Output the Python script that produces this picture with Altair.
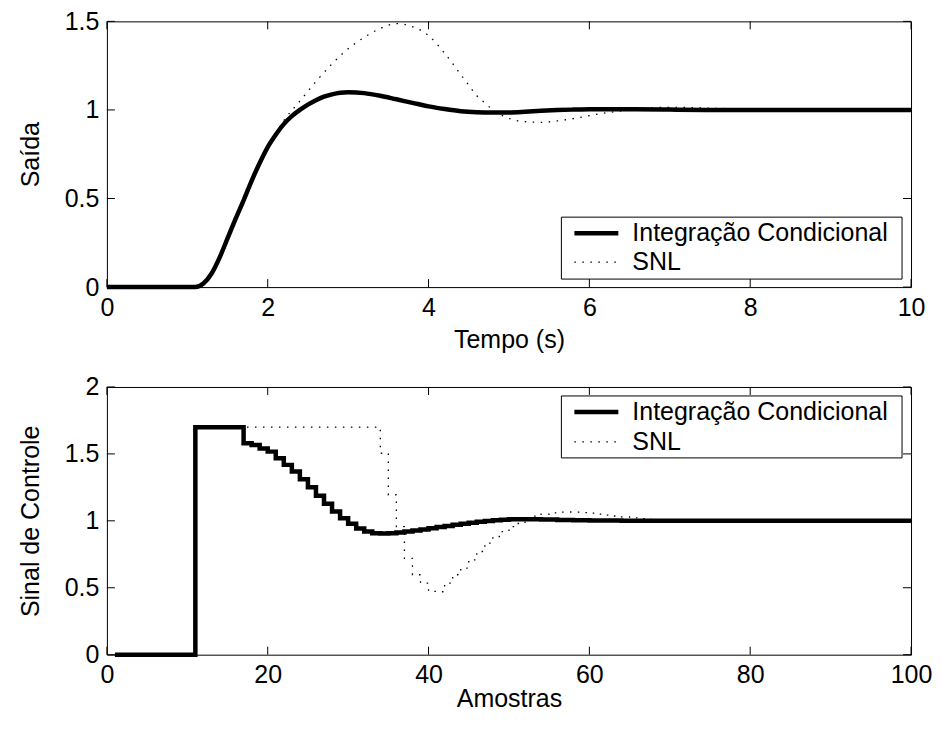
import altair as alt
import pandas as pd

FONT = "Liberation Sans"
series = ["Integração Condicional", "SNL"]

# ---- top panel: output vs time ----
t_ic = [0, 1.0, 1.1, 1.2, 1.3, 1.4, 1.5, 1.6, 1.7, 1.8, 1.9, 2.0, 2.1, 2.2, 2.3, 2.4, 2.5, 2.6,
        2.7, 2.8, 2.9, 3.0, 3.2, 3.4, 3.6, 3.8, 4.0, 4.2, 4.4, 4.6, 4.8, 5.0, 5.2, 5.4, 5.6,
        5.8, 6.0, 6.5, 7.0, 7.5, 8.0, 9.0, 10.0]
y_ic = [0, 0, 0.0, 0.02, 0.075, 0.165, 0.275, 0.385, 0.49, 0.6, 0.7, 0.79, 0.86, 0.92, 0.965,
        1.0, 1.03, 1.055, 1.075, 1.088, 1.097, 1.1, 1.095, 1.08, 1.06, 1.04, 1.02, 1.005, 0.993,
        0.987, 0.985, 0.986, 0.99, 0.995, 0.999, 1.002, 1.004, 1.004, 1.002, 1.0, 1.0, 1.0, 1.0]

t_snl = [0, 1.0, 1.1, 1.2, 1.3, 1.4, 1.5, 1.6, 1.7, 1.8, 1.9, 2.0, 2.1, 2.2, 2.4, 2.6, 2.8,
         3.0, 3.2, 3.4, 3.6, 3.8, 4.0, 4.2, 4.4, 4.5, 4.6, 4.7, 4.8, 4.9, 5.0, 5.2, 5.4, 5.6,
         5.8, 6.0, 6.2, 6.4, 6.6, 6.8, 7.0, 7.5, 8.0, 8.5, 9.0, 10.0]
y_snl = [0, 0, 0.0, 0.02, 0.075, 0.165, 0.275, 0.385, 0.49, 0.6, 0.7, 0.8, 0.87, 0.94, 1.05,
         1.16, 1.26, 1.345, 1.41, 1.46, 1.487, 1.47, 1.42, 1.32, 1.2, 1.14, 1.08, 1.04, 1.0,
         0.972, 0.952, 0.934, 0.93, 0.938, 0.951, 0.968, 0.983, 0.995, 1.006, 1.013, 1.015,
         1.01, 1.004, 1.0, 1.0, 1.0]

# ---- bottom panel: control signal vs samples ----
samples = list(range(1, 101))
u_ic = ([0.0] * 10 + [1.7] * 6 +
        [1.58, 1.567, 1.54, 1.517, 1.468, 1.418, 1.368, 1.31, 1.25, 1.187, 1.127, 1.07, 1.02,
         0.978, 0.943, 0.92, 0.908, 0.905] +
        [0.907, 0.912, 0.92, 0.928, 0.936, 0.945, 0.953, 0.962, 0.97, 0.978, 0.986, 0.993,
         0.999, 1.004, 1.008, 1.011, 1.012] +
        [1.012, 1.011, 1.01, 1.009, 1.007, 1.006, 1.005, 1.004, 1.003, 1.003, 1.002, 1.002,
         1.001, 1.001, 1.001, 1.0, 1.0, 1.0, 1.0] +
        [1.0] * 30)
u_snl = ([0.0] * 10 + [1.7] * 23 +
         [1.505, 1.194, 0.957, 0.72, 0.597, 0.535, 0.473, 0.47, 0.535, 0.597, 0.647, 0.709,
          0.771, 0.834, 0.883, 0.92, 0.957, 0.98] +
         [1.01, 1.035, 1.05, 1.06, 1.065, 1.066, 1.065, 1.062, 1.057, 1.05, 1.043, 1.036,
          1.029, 1.022, 1.016, 1.011, 1.007, 1.004, 1.002] +
         [1.0] * 30)

top_xticks = [0, 2, 4, 6, 8, 10]
top_yticks = [0, 0.5, 1, 1.5]
bot_xticks = [0, 20, 40, 60, 80, 100]
bot_yticks = [0, 0.5, 1, 1.5, 2]

W = 805
H1 = 266
H2 = 268
TICK = 8
FS = 25
LABEL_EXPR = "'' + datum.value"

styles = {
    series[0]: dict(strokeWidth=4.5, color="#000000"),
    series[1]: dict(strokeWidth=1.3, color="#000000", strokeDash=[1.5, 6.5]),
}


def panel(xs_list, ys_list, xdom, ydom, xticks, yticks, xtitle, ytitle, H, interp,
          leg_top, row_gap, title_y):
    xscale = alt.Scale(domain=xdom, nice=False, zero=False)
    yscale = alt.Scale(domain=ydom, nice=False, zero=False)
    xaxis = alt.Axis(values=xticks, labelExpr=LABEL_EXPR, ticks=False, domain=False, grid=False,
                     labelFontSize=FS, labelFont=FONT, labelColor="#000",
                     labelPadding=8, labelFlush=False, labelOverlap=False,
                     title=xtitle, titleFontSize=FS, titleFont=FONT, titleFontWeight="normal",
                     titleColor="#000", titleY=title_y, titleBaseline="top")
    yaxis = alt.Axis(values=yticks, labelExpr=LABEL_EXPR, ticks=False, domain=False, grid=False,
                     labelFontSize=FS, labelFont=FONT, labelColor="#000",
                     labelPadding=8, labelOverlap=False,
                     title=ytitle, titleFontSize=FS, titleFont=FONT, titleFontWeight="normal",
                     titleColor="#000", titleX=-76, titleBaseline="middle")
    layers = []
    for name, xs, ys in zip(series, xs_list, ys_list):
        df = pd.DataFrame({"x": xs, "y": ys})
        st = styles[name]
        kw = dict(interpolate=interp, strokeWidth=st["strokeWidth"], color=st["color"])
        if "strokeDash" in st:
            kw["strokeDash"] = st["strokeDash"]
        layers.append(alt.Chart(df).mark_line(**kw).encode(
            x=alt.X("x:Q", scale=xscale, axis=xaxis, title=xtitle),
            y=alt.Y("y:Q", scale=yscale, axis=yaxis, title=ytitle)))
    xt = pd.DataFrame({"x": xticks})
    yt = pd.DataFrame({"y": yticks})
    X = alt.X("x:Q", scale=xscale, title=xtitle)
    Y = alt.Y("y:Q", scale=yscale, title=ytitle)
    layers.append(alt.Chart(xt).mark_rule(color="#000", strokeWidth=1).encode(
        x=X, y=alt.value(H), y2=alt.value(H - TICK)))
    layers.append(alt.Chart(xt).mark_rule(color="#000", strokeWidth=1).encode(
        x=X, y=alt.value(0), y2=alt.value(TICK)))
    layers.append(alt.Chart(yt).mark_rule(color="#000", strokeWidth=1).encode(
        y=Y, x=alt.value(0), x2=alt.value(TICK)))
    layers.append(alt.Chart(yt).mark_rule(color="#000", strokeWidth=1).encode(
        y=Y, x=alt.value(W), x2=alt.value(W - TICK)))
    # legend box
    box = pd.DataFrame({"label": [" "]})
    layers.append(alt.Chart(box).mark_rect(fill="white", stroke="#000", strokeWidth=1).encode(
        x=alt.value(455), x2=alt.value(796), y=alt.value(leg_top), y2=alt.value(leg_top + 62)))
    for i, name in enumerate(series):
        ry = leg_top + 16 + i * row_gap
        st = styles[name]
        kw = dict(color=st["color"], strokeWidth=st["strokeWidth"])
        if "strokeDash" in st:
            kw["strokeDash"] = st["strokeDash"]
        ld = pd.DataFrame({"label": [name]})
        layers.append(alt.Chart(ld).mark_rule(**kw).encode(
            x=alt.value(468), x2=alt.value(512), y=alt.value(ry)))
        layers.append(alt.Chart(ld).mark_text(align="left", baseline="middle", fontSize=FS,
                                              font=FONT, color="#000").encode(
            text="label:N", x=alt.value(526), y=alt.value(ry)))
    return alt.layer(*layers).properties(width=W, height=H)


top = panel([t_ic, t_snl], [y_ic, y_snl], [0, 10], [0, 1.5], top_xticks, top_yticks,
            "Tempo (s)", "Saída", H1, "monotone", 196, 29, 40)
bottom = panel([samples, samples], [u_ic, u_snl], [0, 100], [0, 2], bot_xticks, bot_yticks,
               "Amostras", "Sinal de Controle", H2, "step-after", 9, 30, 32)

chart = alt.vconcat(top, bottom, spacing=100, bounds="flush").properties(
    padding={"top": 0, "left": 10, "right": 0, "bottom": 0}
).configure(background="white").configure_view(stroke="#000000", strokeWidth=1)

chart.save("out.html", embed_options={"renderer": "svg", "actions": False})
